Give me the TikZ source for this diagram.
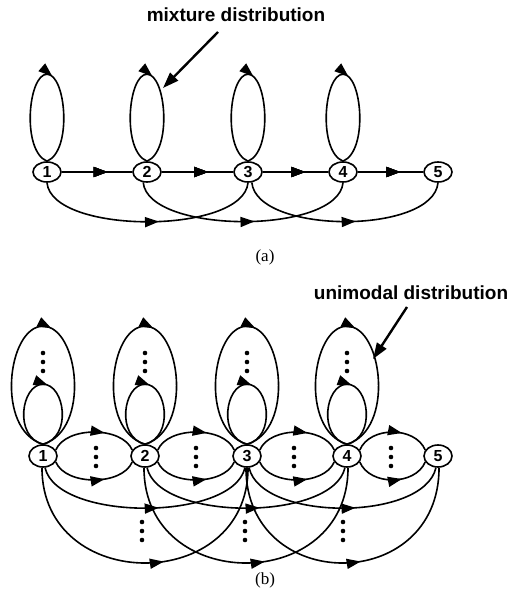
\documentclass[tikz,border=0pt]{standalone}
\usepackage{fontspec}
\setmainfont{Liberation Serif}
\newfontfamily\labfont{Liberation Sans}
\usetikzlibrary{arrows.meta,decorations.markings,shapes.geometric}
\tikzset{
  st/.style={ellipse,draw,line width=1.6pt,minimum width=28pt,minimum height=20pt,inner sep=0pt,font=\labfont\bfseries\fontsize{16}{16}\selectfont},
  edge/.style={line width=1.6pt},
  midarrow/.style={postaction={decorate},decoration={markings,mark=at position #1 with {\arrow{Triangle[length=14pt,width=10pt]}}}},
  note/.style={font=\labfont\bfseries\fontsize{19}{22}\selectfont},
  pointer/.style={line width=2.4pt,-{Triangle[length=16pt,width=11pt]}},
  captext/.style={font=\fontsize{17}{20}\selectfont},
}
\newcommand\dloop[3]{\draw[edge,midarrow=0.53] (#1.north) .. controls +({-1.55*#3},{-0.12*#2}) and +({-1.15*#3},0) .. ++(0,-#2) .. controls +({1.15*#3},0) and +({1.55*#3},{-0.12*#2}) .. ++(0,#2);}
\newcommand\mydots[2]{\fill (#1,#2) circle[radius=2.3pt] (#1,{#2+9}) circle[radius=2.3pt] (#1,{#2+18}) circle[radius=2.3pt];}
\begin{document}
\begin{tikzpicture}[x=1pt,y=-1pt]
\useasboundingbox (0,0) rectangle (531,599);
% ---------- (a)
\node[note] (mix) at (236,15) {mixture distribution};
\coordinate (mixstart) at (218,32);
\coordinate (mixtip) at (163,88);
\draw[pointer] (mixstart) -- (mixtip);
\foreach \n/\x in {1/47,2/147,3/248,4/343,5/438}
  \node[st] (a\n) at (\x,172) {\n};
\foreach \n in {1,2,3,4} \dloop{a\n}{87}{16.5}
\foreach \i/\j in {1/2,2/3,3/4,4/5}
  \draw[edge,midarrow=0.65] (a\i) -- (a\j);
\draw[edge,midarrow=0.55] (a1.south) .. controls +(5,52) and +(-5,52) .. (a3.south);
\draw[edge,midarrow=0.55] (a2.-110) .. controls +(5,52) and +(-5,52) .. (a4.south);
\draw[edge,midarrow=0.55] (a3.-70) .. controls +(5,52) and +(-5,52) .. (a5.south);
\node[captext] (capa) at (265,257) {(a)};
% ---------- (b)
\node[note] (uni) at (411,293) {unimodal distribution};
\coordinate (unistart) at (407,307);
\coordinate (unitip) at (373,359);
\draw[pointer] (unistart) -- (unitip);
\foreach \n/\x in {1/43,2/145,3/247,4/347,5/438}
  \node[st,minimum width=28pt,minimum height=22pt] (b\n) at (\x,456) {\n};
\foreach \n/\x in {1/43,2/145,3/247,4/347} {
  \dloop{b\n}{118}{31}
  \dloop{b\n}{60}{19}
  \mydots{\x}{353}
}
\foreach \i/\j/\m in {1/2/96,2/3/196,3/4/294,4/5/391} {
  \draw[edge,midarrow=0.62] (b\i.25) .. controls +(10,-24) and +(-10,-24) .. (b\j.155);
  \draw[edge,midarrow=0.62] (b\i.-25) .. controls +(10,24) and +(-10,24) .. (b\j.-155);
  \mydots{\m}{448}
}
\foreach \i/\j/\m in {1/3/142,2/4/245,3/5/343} {
  \draw[edge,midarrow=0.56] (b\i.-80) .. controls +(12,54) and +(-12,54) .. (b\j.-100);
  \draw[edge,midarrow=0.56] (b\i.-95) .. controls +(0,127) and +(0,127) .. (b\j.-85);
  \mydots{\m}{522}
}
\node[captext] (capb) at (265,580) {(b)};
\end{tikzpicture}
\end{document}
